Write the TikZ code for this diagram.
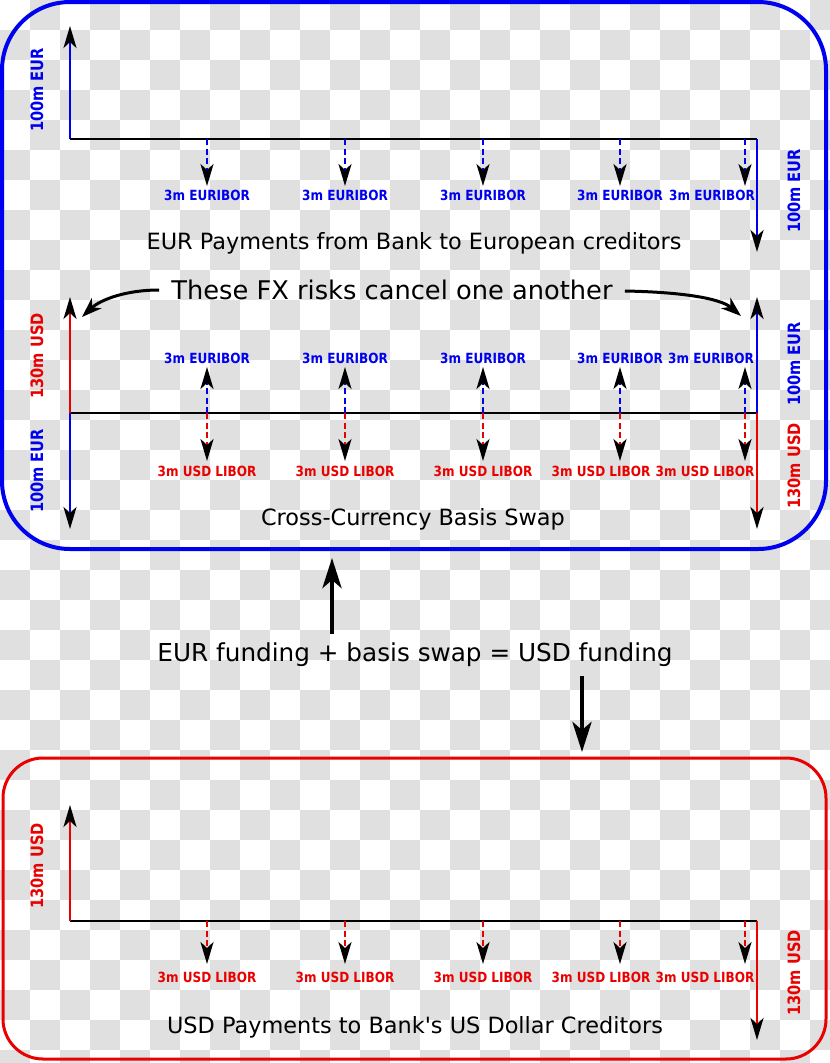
\documentclass[tikz,border=0pt]{standalone}
\usepackage{fontspec}
\setmainfont{DejaVu Sans}
\newfontfamily\condfont{DejaVu Sans}[FakeStretch=0.86]
\newfontfamily\plainfont{DejaVu Sans}
\usetikzlibrary{arrows.meta}
\definecolor{chk}{RGB}{224,224,224}
\definecolor{myblue}{RGB}{0,0,240}
\definecolor{myred}{RGB}{235,0,0}
\begin{document}
\begin{tikzpicture}[x=1pt,y=-1pt,
  tipk/.style={-{Stealth[color=black,length=22pt,width=13pt,inset=6pt]}},
  flow/.style={line width=2.8pt, tipk},
  dflow/.style={line width=2.6pt, dash pattern=on 6pt off 3.5pt, tipk},
  small/.style={font=\condfont\fontsize{14}{14}\selectfont\bfseries, inner sep=0pt},
  amt/.style={font=\condfont\fontsize{17}{17}\selectfont\bfseries, rotate=90, inner sep=0pt},
  caption/.style={font=\plainfont\fontsize{22.4}{22.4}\selectfont, inner sep=0pt},
  comic/.style={font=\fontsize{25.7}{25.7}\selectfont, inner sep=0pt},
  comicb/.style={font=\fontsize{24.7}{24.7}\selectfont, inner sep=0pt},
  axisline/.style={line width=1.6pt, black},
  bigarrow/.style={line width=4.5pt, -{Stealth[length=30pt,width=19pt,inset=8pt]}},
  curvearrow/.style={line width=3pt, -{Stealth[length=20pt,width=14pt,inset=6pt]}},
]
\useasboundingbox (0,0) rectangle (830,1063);
% transparency checkerboard
\begin{scope}
\clip (0,0) rectangle (830,1063);
\fill[white] (0,0) rectangle (830,1063);
\foreach \j in {0,2,...,34} \foreach \i in {1,3,...,27} \fill[chk] (\i*30,\j*30) rectangle ++(30,30);
\foreach \j in {1,3,...,35} \foreach \i in {0,2,...,26} \fill[chk] (\i*30,\j*30) rectangle ++(30,30);
\end{scope}

% frames
\draw[myblue, line width=4pt, rounded corners=68pt] (2,2) rectangle (826,549);
\draw[myred, line width=3pt, rounded corners=40pt] (3,758) rectangle (826,1059);

% ---------- top section: EUR payments ----------
\coordinate (tL) at (70,139);
\coordinate (tR) at (757,139);
\coordinate (tLup) at (70,26);
\coordinate (tRdn) at (757,252);
\draw[axisline] (tL) -- (tR);
\draw[flow, myblue] (tL) -- (tLup);
\draw[flow, myblue] (tR) -- (tRdn);
\node[amt, myblue] (tLa) at (37,90) {100m EUR};
\node[amt, myblue] (tRa) at (794,191) {100m EUR};
\foreach \x/\lx [count=\k] in {207/207,345/345,483/483,620/620,745/712}{
  \coordinate (tp\k) at (\x,139);
  \coordinate (tq\k) at (\x,186);
  \draw[dflow, myblue] (tp\k) -- (tq\k);
  \node[small, myblue] (tl\k) at (\lx,195) {3m EURIBOR};
}
\node[caption] (tcap) at (414,243) {EUR Payments from Bank to European creditors};

% ---------- middle: basis swap ----------
\node[comic] (fx) at (392,290) {These FX risks cancel one another};
\coordinate (fxl) at (82,317);
\coordinate (fxr) at (741,316);
\draw[curvearrow] (fx.west) ++(-12,0) coordinate (fxs) .. controls (125,290) and (100,300) .. (fxl);
\draw[curvearrow] (fx.east) ++(12,1) coordinate (fxe) .. controls (680,292) and (720,298) .. (fxr);

\coordinate (mL) at (70,413);
\coordinate (mR) at (757,413);
\coordinate (mLup) at (70,297);
\coordinate (mLdn) at (70,529);
\coordinate (mRup) at (757,297);
\coordinate (mRdn) at (757,529);
\draw[axisline] (mL) -- (mR);
\draw[flow, myred] (mL) -- (mLup);
\draw[flow, myblue] (mL) -- (mLdn);
\draw[flow, myblue] (mR) -- (mRup);
\draw[flow, myred] (mR) -- (mRdn);
\node[amt, myred] (mLa) at (37,356) {130m USD};
\node[amt, myblue] (mLb) at (37,471) {100m EUR};
\node[amt, myblue] (mRa) at (794,364) {100m EUR};
\node[amt, myred] (mRb) at (794,466) {130m USD};
\foreach \x/\ea/\la [count=\k] in {207/207/207,345/345/345,483/483/483,620/620/601,745/711/705}{
  \coordinate (mp\k) at (\x,413);
  \coordinate (mu\k) at (\x,367);
  \coordinate (md\k) at (\x,461);
  \draw[dflow, myblue] (mp\k) -- (mu\k);
  \draw[dflow, myred] (mp\k) -- (md\k);
  \node[small, myblue] (me\k) at (\ea,358) {3m EURIBOR};
  \node[small, myred] (ml\k) at (\la,471) {3m USD LIBOR};
}
\node[caption] (mcap) at (413,519) {Cross-Currency Basis Swap};

% ---------- center statement ----------
\node[comicb] (eq) at (415,655) {EUR funding + basis swap = USD funding};
\coordinate (upA) at (332,634);
\coordinate (upB) at (332,558);
\coordinate (dnA) at (582,676);
\coordinate (dnB) at (582,752);
\draw[bigarrow] (upA) -- (upB);
\draw[bigarrow] (dnA) -- (dnB);

% ---------- bottom section: USD payments ----------
\coordinate (bL) at (70,921);
\coordinate (bR) at (757,921);
\coordinate (bLup) at (70,805);
\coordinate (bRdn) at (757,1040);
\draw[axisline] (bL) -- (bR);
\draw[flow, myred] (bL) -- (bLup);
\draw[flow, myred] (bR) -- (bRdn);
\node[amt, myred] (bLa) at (37,866) {130m USD};
\node[amt, myred] (bRa) at (794,973) {130m USD};
\foreach \x/\lx [count=\k] in {207/207,345/345,483/483,620/601,745/705}{
  \coordinate (bp\k) at (\x,921);
  \coordinate (bq\k) at (\x,964);
  \draw[dflow, myred] (bp\k) -- (bq\k);
  \node[small, myred] (bl\k) at (\lx,977) {3m USD LIBOR};
}
\node[caption] (bcap) at (415,1027) {USD Payments to Bank's US Dollar Creditors};
\end{tikzpicture}
\end{document}
